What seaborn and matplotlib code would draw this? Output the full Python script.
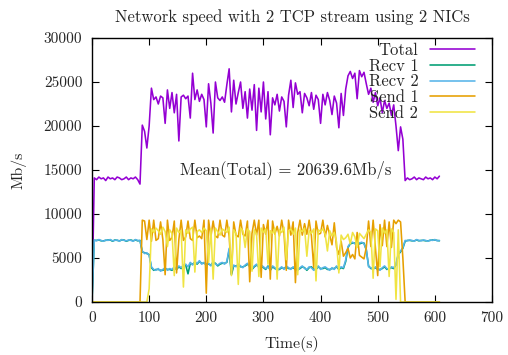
import numpy as np
import pandas as pd
import matplotlib
matplotlib.use("Agg")
import matplotlib.pyplot as plt
from matplotlib.lines import Line2D
import seaborn as sns

# ---- data (Mb/s, sampled every 4 s) ----
total = [
    0, 14100, 13900, 14200, 14000, 14100, 13800, 14200, 14000, 14100,
    13900, 14200, 14100, 13900, 14000, 14200, 13900, 14100, 14000, 14200,
    13900, 13400, 20100, 19400, 17500, 20000, 24300, 23000, 23300, 22500,
    23400, 23200, 20300, 24100, 22000, 23800, 21500, 23600, 18300, 23300,
    23500, 23100, 23400, 20900, 26000, 23000, 24100, 22800, 23600, 23000,
    19900, 24800, 22600, 19200, 25000, 23200, 22900, 23300, 22700, 24700,
    26500, 21600, 25200, 22500, 23800, 25000, 22000, 23900, 20900, 24200,
    21800, 24700, 19500, 24300, 21600, 25000, 20800, 23900, 19000, 23200,
    22400, 23600, 21700, 23300, 22800, 19900, 23500, 25200, 22100, 24900,
    23600, 23900, 21500, 23700, 23200, 22300, 23800, 21900, 23500, 23000,
    20300, 23600, 22400, 23800, 22900, 21300, 23400, 22600, 19800, 23700,
    21200, 24200, 25700, 26200, 25400, 26000, 23100, 26300, 25600, 26100,
    24800, 23600, 24300, 22700, 23800, 22300, 23200, 21500, 22900, 22000,
    22600, 21200, 22400, 20000, 17200, 19900, 18500, 13800, 14100, 13900,
    14000, 14200, 13900, 14100, 14000, 13900, 14200, 14000, 14100, 13900,
    14200, 14000, 14300,
]
recv1 = [
    0, 7000, 7000, 7050, 6950, 6950, 7000, 7050, 7050, 6900,
    7050, 7000, 6950, 7050, 7050, 6900, 7000, 7050, 6950, 7050,
    6950, 7000, 5700, 5600, 5500, 5400, 3900, 3600, 3700, 3700,
    3600, 3600, 3800, 3700, 3700, 3600, 3900, 3700, 4000, 3800,
    4100, 4200, 3200, 4400, 4300, 4500, 4300, 4600, 4400, 4400,
    4300, 4300, 4200, 4500, 4400, 4100, 4300, 4400, 4400, 4500,
    5900, 3100, 4100, 4100, 4200, 4000, 4000, 4100, 4300, 4100,
    3700, 4000, 4200, 4000, 4100, 3900, 3700, 4100, 3600, 4000,
    3800, 3700, 3700, 3900, 3800, 4000, 3800, 3800, 3900, 3700,
    3700, 3800, 4000, 3900, 3600, 3900, 4000, 3700, 3700, 4000,
    3800, 3800, 3900, 3700, 3700, 3800, 3800, 4000, 3700, 3900,
    3800, 4600, 6200, 6600, 6700, 6700, 6800, 6600, 6700, 6700,
    5900, 4100, 3800, 3800, 3900, 3700, 3700, 3800, 4000, 3700,
    3800, 3900, 3800, 4200, 5400, 5700, 6100, 6900, 7000, 7000,
    6950, 6950, 7050, 6950, 7000, 7000, 6950, 6950, 7000, 7050,
    7050, 7000, 6950,
]
recv2 = [
    0, 7050, 6950, 7100, 7000, 6900, 7050, 7000, 7100, 6950,
    7000, 7050, 6900, 7100, 7000, 6950, 7050, 7000, 6900, 7100,
    7000, 6950, 5800, 5500, 5600, 5300, 4000, 3700, 3600, 3800,
    3500, 3700, 3900, 3600, 3800, 3700, 4000, 3800, 4100, 3900,
    4200, 4300, 4000, 4500, 4200, 4600, 4400, 4700, 4300, 4500,
    4200, 4400, 4100, 4600, 4300, 4200, 4400, 4500, 4300, 4600,
    6100, 3500, 4200, 4000, 4300, 4100, 3900, 4200, 4400, 4000,
    3800, 4100, 4300, 3900, 4200, 4000, 3800, 4000, 3700, 4100,
    3900, 3600, 3800, 4000, 3700, 4100, 3900, 3700, 4000, 3800,
    3600, 3900, 4100, 3800, 3700, 4000, 3900, 3600, 3800, 4100,
    3700, 3900, 4000, 3800, 3600, 3900, 3700, 4100, 3800, 4000,
    3900, 4800, 6300, 6700, 6800, 6600, 6900, 6700, 6800, 6600,
    6000, 4000, 3900, 3700, 4000, 3800, 3600, 3900, 4100, 3800,
    3700, 4000, 3900, 4300, 5500, 5800, 6200, 7000, 6950, 7050,
    7000, 6900, 7100, 7000, 6950, 7050, 7000, 6900, 7050, 7000,
    7100, 6950, 7000,
]
send1 = [
    0, 0, 0, 0, 0, 0, 0, 0, 0, 0,
    0, 0, 0, 0, 0, 0, 0, 0, 0, 0,
    0, 0, 9300, 9200, 7100, 9300, 6900, 9300, 7000, 7200,
    9100, 7100, 3100, 9300, 7000, 7300, 9200, 3300, 7100, 9300,
    7000, 7400, 9200, 7200, 7000, 9300, 7300, 7500, 7200, 9300,
    1000, 9300, 7400, 9200, 7500, 7300, 9300, 7600, 7400, 9300,
    7500, 3200, 9100, 7600, 7400, 9300, 7700, 7500, 9200, 2300,
    7800, 9300, 7600, 9300, 2800, 8800, 7700, 9300, 2600, 9200,
    7700, 8600, 7500, 9300, 7800, 3600, 9300, 7600, 9100, 2200,
    7900, 9300, 7600, 8900, 7700, 9300, 7500, 3900, 9200, 7700,
    7800, 9300, 7400, 8700, 7600, 6500, 9000, 6200, 5400, 6900,
    5200, 5600, 6100, 5000, 5400, 4900, 7900, 5300, 5100, 4900,
    6200, 9200, 6300, 9300, 6200, 3000, 8800, 6400, 9300, 6300,
    9100, 6200, 9300, 8900, 9300, 9100, 5000, 0, 0, 0,
    0, 0, 0, 0, 0, 0, 0, 0, 0, 0,
    0, 0, 0,
]
send2 = [
    0, 0, 0, 0, 0, 0, 0, 0, 0, 0,
    0, 0, 0, 0, 0, 0, 0, 0, 0, 0,
    0, 0, 0, 0, 0, 1500, 8300, 7900, 8400, 8100,
    7700, 8500, 8000, 6300, 8200, 7800, 3000, 8400, 7900, 8100,
    1700, 8200, 7800, 8300, 8500, 3400, 8000, 8200, 7900, 8400,
    8100, 4500, 8300, 2600, 8400, 8000, 7600, 8300, 8100, 7900,
    8500, 3000, 8200, 7800, 2000, 8400, 8100, 6200, 8300, 8000,
    3500, 8200, 7700, 2900, 8400, 7900, 8300, 4300, 8100, 7800,
    8400, 2600, 8200, 7900, 8500, 4800, 8100, 8300, 7700, 8400,
    3100, 8200, 8000, 8400, 5200, 8100, 7800, 8300, 2400, 8200,
    8000, 8300, 7700, 5800, 8100, 7500, 7900, 6800, 3300, 7600,
    7100, 7300, 7700, 6600, 7900, 7400, 6200, 7800, 7500, 7200,
    7700, 8200, 7900, 2700, 8300, 8100, 4000, 8400, 7800, 8200,
    2900, 8300, 7900, 300, 8200, 0, 0, 0, 0, 0,
    0, 0, 0, 0, 0, 0, 0, 0, 0, 0,
    0, 0, 0,
]
time_s = list(range(0, 4 * len(total), 4))

series_names = ["Total", "Recv 1", "Recv 2", "Send 1", "Send 2"]
series_vals = [total, recv1, recv2, send1, send2]
colors = ["#9400D3", "#009E73", "#56B4E9", "#E69F00", "#F0E442"]

x_ticks = [0, 100, 200, 300, 400, 500, 600, 700]
y_ticks = [0, 5000, 10000, 15000, 20000, 25000, 30000]

title = "Network speed with 2 TCP stream using 2 NICs"
mean_label = "Mean(Total) = 20639.6Mb/s"

df = pd.concat(
    [pd.DataFrame({"Time": time_s, "Speed": v, "series": n})
     for n, v in zip(series_names, series_vals)],
    ignore_index=True,
)

sns.set_style("ticks")
plt.rcParams["font.family"] = ["cmr10", "DejaVu Serif"]
plt.rcParams["axes.formatter.use_mathtext"] = True
plt.rcParams["mathtext.fontset"] = "cm"
FS_TICK = 11
FS_LAB = 11.4
FS_TXT = 12

fig = plt.figure(figsize=(5.08, 3.55), dpi=100)
ax = fig.add_axes([92 / 508, 1 - 302 / 355, 400 / 508, 264 / 355])

sns.lineplot(
    data=df, x="Time", y="Speed", hue="series", hue_order=series_names,
    palette=dict(zip(series_names, colors)), estimator=None, sort=False,
    linewidth=1.15, legend=False, ax=ax,
)

ax.set_xlim(0, 700)
ax.set_ylim(0, 30000)
ax.set_xticks(x_ticks)
ax.set_xticklabels([str(v) for v in x_ticks], fontsize=FS_TICK)
ax.set_yticks(y_ticks)
ax.set_yticklabels([str(v) for v in y_ticks], fontsize=FS_TICK)
ax.tick_params(direction="in", length=5, width=0.8, top=True, right=True,
               color="black")
ax.tick_params(axis="y", pad=7)
ax.tick_params(axis="x", pad=6.5)
for s in ax.spines.values():
    s.set_visible(True)
    s.set_linewidth(1.0)
    s.set_color("black")

ax.set_xlabel("Time(s)", fontsize=FS_LAB, labelpad=8)
ax.set_ylabel("Mb/s", fontsize=FS_LAB, labelpad=12)
ax.set_title(title, fontsize=FS_TXT, pad=11.5)

ax.text(154, 15000, mean_label, fontsize=FS_TXT, ha="left", va="center")

handles = [Line2D([], [], color=c, lw=1.15) for c in colors]
ax.legend(handles, series_names, loc="upper right",
          bbox_to_anchor=(0.9575, 0.982), markerfirst=False, frameon=False,
          fontsize=FS_TXT, handlelength=2.7, handletextpad=0.7,
          labelspacing=0.02, borderpad=0, borderaxespad=0)

fig.savefig("out.png", dpi=100, facecolor="white")
